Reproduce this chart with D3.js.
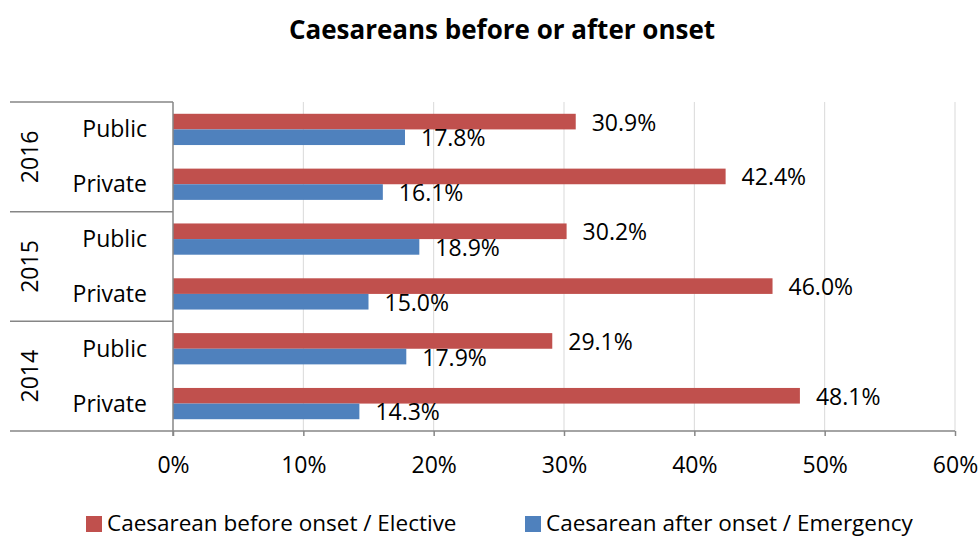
<!DOCTYPE html>
<html><head><meta charset="utf-8">
<script src="https://cdn.jsdelivr.net/npm/d3@7"></script>
<style>
html,body{margin:0;padding:0;background:#fff;}
svg{display:block;font-family:"Open Sans","Liberation Sans",sans-serif;}
</style></head>
<body>
<svg id="chart" width="978" height="539"></svg>
<script>
const years = ["2016", "2015", "2014"];
const sectors = ["Public", "Private"];
const categories = ["2016|Public", "2016|Private", "2015|Public", "2015|Private", "2014|Public", "2014|Private"];
const elective = [30.9, 42.4, 30.2, 46.0, 29.1, 48.1];
const emergency = [17.8, 16.1, 18.9, 15.0, 17.9, 14.3];
const seriesNames = ["Caesarean before onset / Elective", "Caesarean after onset / Emergency"];
const xTicks = [0, 10, 20, 30, 40, 50, 60];

(function () {
const colors = ["#C0504D", "#4F81BD"];
const svg = d3.select("#chart");
const pLeft = 173, pRight = 955, pTop = 102, pBottom = 431, tableLeft = 10;
const fs = 23;

const x = d3.scaleLinear().domain([0, 60]).range([pLeft, pRight]);
const y = d3.scaleBand().domain(categories).range([pTop, pBottom]).paddingInner(0.43).paddingOuter(0.215);
const ySub = d3.scaleBand().domain([0, 1]).range([0, y.bandwidth()]);

// title
svg.append("text").attr("x", 502).attr("y", 30).attr("dy", "0.35em").attr("text-anchor", "middle")
  .attr("font-size", 26).attr("font-weight", "bold").attr("fill", "#000")
  .text("Caesareans before or after onset");

// gridlines
svg.append("g").selectAll("line").data(xTicks.slice(1)).join("line")
  .attr("x1", d => x(d)).attr("x2", d => x(d)).attr("y1", pTop).attr("y2", pBottom)
  .attr("stroke", "#D9D9D9").attr("stroke-width", 1);

// bars
const series = [elective, emergency];
series.forEach((vals, si) => {
  svg.append("g").selectAll("rect").data(vals).join("rect")
    .attr("x", x(0)).attr("y", (d, i) => y(categories[i]) + ySub(si))
    .attr("width", d => x(d) - x(0)).attr("height", ySub.bandwidth())
    .attr("fill", colors[si]);
  svg.append("g").selectAll("text").data(vals).join("text")
    .attr("x", d => x(d) + 16)
    .attr("y", (d, i) => y(categories[i]) + ySub(si) + ySub.bandwidth() / 2 + 1)
    .attr("dy", "0.35em").attr("font-size", fs).attr("fill", "#000")
    .text(d => d.toFixed(1) + "%");
});

// category table lines
const axisColor = "#868686";
const bounds = [pTop, y.step() * 2 + pTop, y.step() * 4 + pTop, pBottom];
bounds.forEach((b, i) => {
  svg.append("line").attr("x1", tableLeft).attr("x2", i === 3 ? pRight : pLeft)
    .attr("y1", b).attr("y2", b).attr("stroke", axisColor).attr("stroke-width", 1.5);
});
svg.append("line").attr("x1", pLeft).attr("x2", pLeft).attr("y1", pTop).attr("y2", pBottom + 5)
  .attr("stroke", axisColor).attr("stroke-width", 1.5);

// bottom x-axis (ticks + labels)
const xAxis = d3.axisBottom(x).tickValues(xTicks).tickFormat(d => d + "%").tickSize(5).tickPadding(21);
const gx = svg.append("g").attr("transform", `translate(0,${pBottom})`).call(xAxis);
gx.select(".domain").remove();
gx.selectAll(".tick line").attr("stroke", axisColor).attr("stroke-width", 1.5);
gx.selectAll(".tick text").attr("font-size", fs).attr("font-family", "Open Sans").attr("fill", "#000");

// sector labels
svg.append("g").selectAll("text").data(categories).join("text")
  .attr("x", 147).attr("y", d => y(d) + y.bandwidth() / 2)
  .attr("dy", "0.35em").attr("text-anchor", "end").attr("font-size", fs).attr("fill", "#000")
  .text(d => d.split("|")[1]);

// year labels
years.forEach((yr, i) => {
  const cy = (bounds[i] + bounds[i + 1]) / 2;
  svg.append("text").attr("transform", `translate(38,${cy}) rotate(-90)`)
    .attr("text-anchor", "middle").attr("font-size", fs).attr("fill", "#000").text(yr);
});

// legend
const legendItems = [{x: 86, tx: 107}, {x: 525, tx: 546}];
legendItems.forEach((li, i) => {
  svg.append("rect").attr("x", li.x).attr("y", 516).attr("width", 16).attr("height", 16).attr("fill", colors[i]);
  svg.append("text").attr("x", li.tx).attr("y", 523).attr("dy", "0.35em")
    .attr("font-size", 22.5).attr("fill", "#000").text(seriesNames[i]);
});
})();
</script>
</body></html>
